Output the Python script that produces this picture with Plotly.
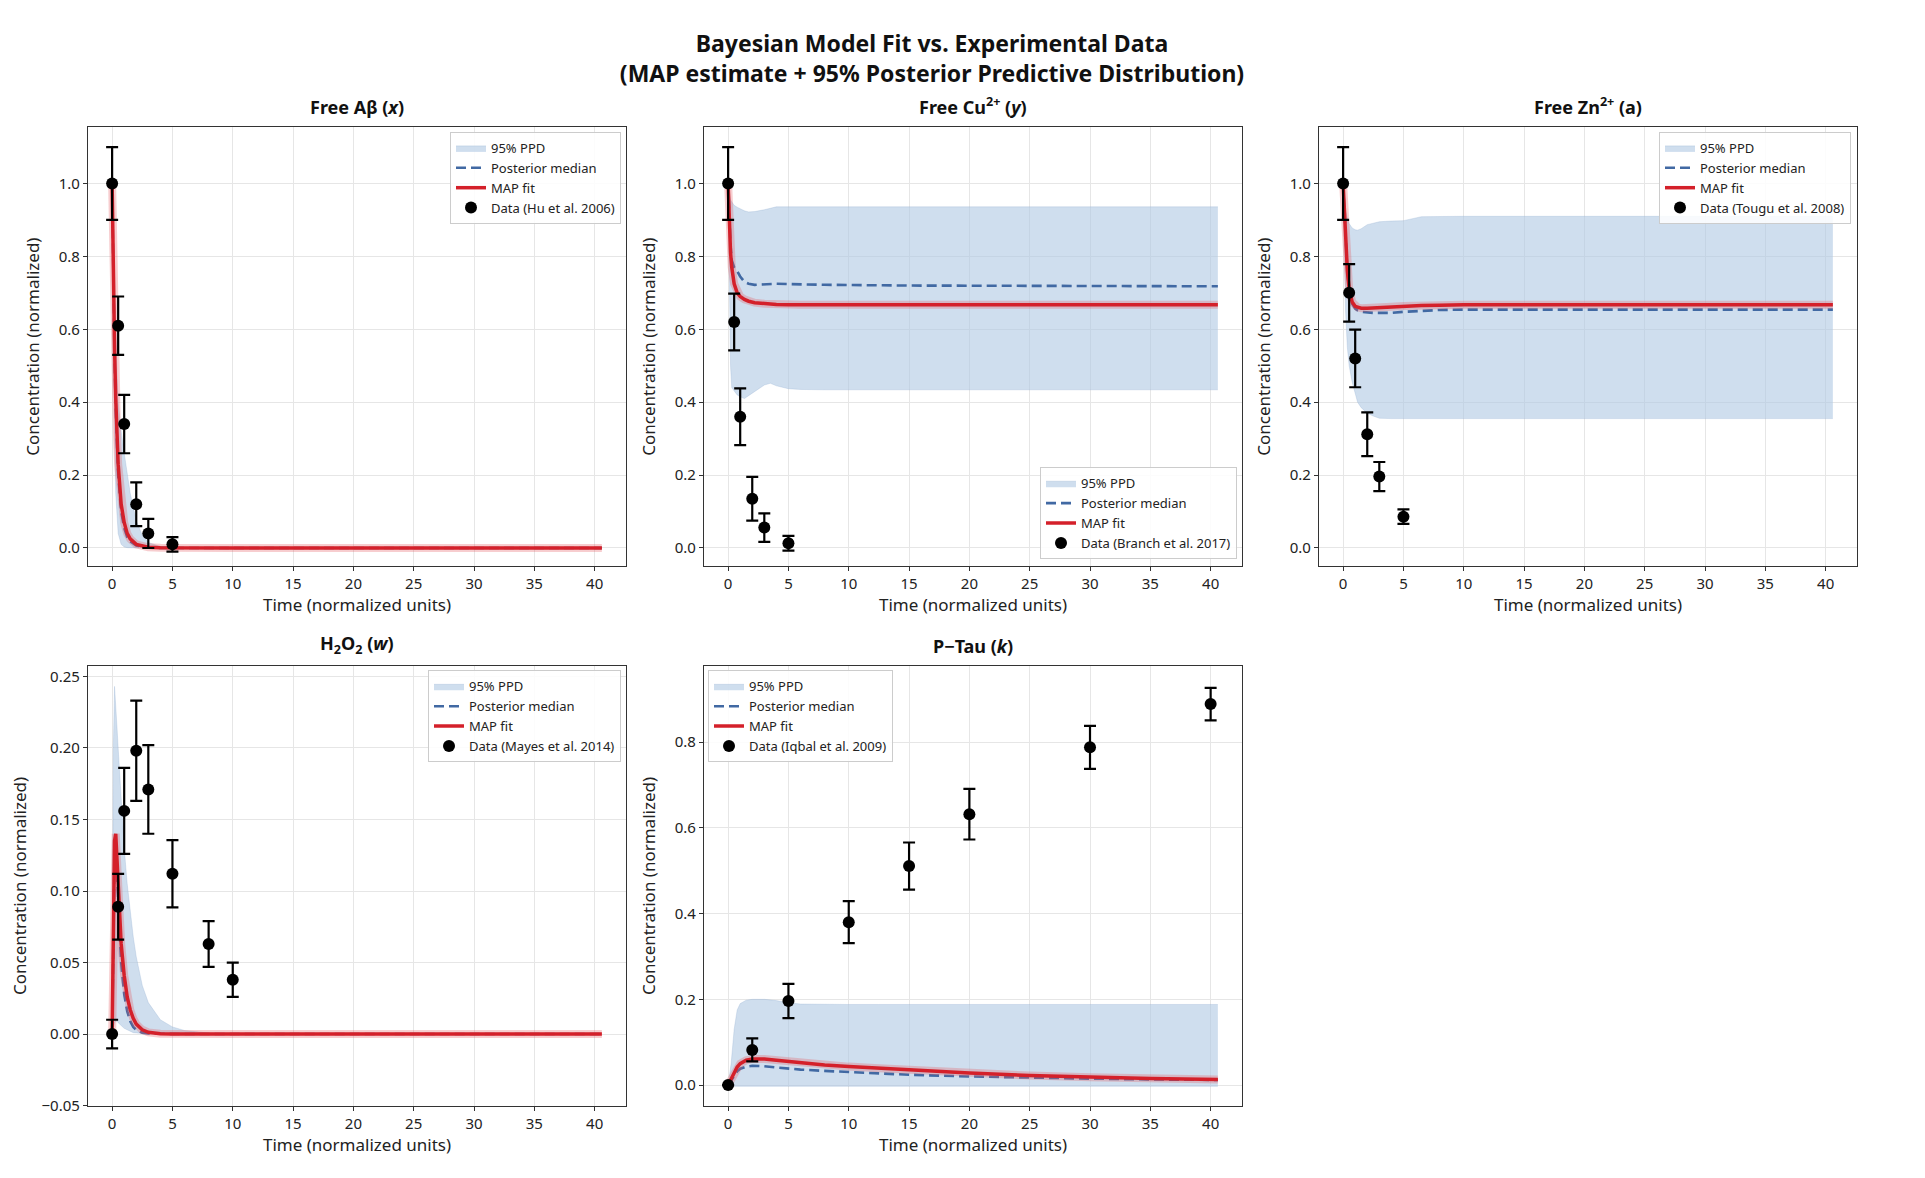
import plotly.graph_objects as go

W, H = 1925, 1178

# ---- Free Abeta (x) ----
t_ab = [0, 0.1, 0.2, 0.3, 0.4, 0.5, 0.75, 1.0, 1.25, 1.5, 2.0, 2.5, 3.0, 4.0, 5.0, 10, 20, 30, 40.6]
map_ab = [1.0, 0.74, 0.55, 0.41, 0.31, 0.23, 0.12, 0.07, 0.04, 0.025, 0.01, 0.005, 0.002, 0.0005, 0.0001, 0, 0, 0, 0]
med_ab = [1.0, 0.72, 0.52, 0.38, 0.28, 0.2, 0.1, 0.055, 0.03, 0.018, 0.007, 0.003, 0.001, 0.0003, 0.0, 0, 0, 0, 0]
up_ab = [1.0, 0.85, 0.7, 0.58, 0.48, 0.4, 0.32, 0.26, 0.2, 0.15, 0.075, 0.035, 0.015, 0.004, 0.001, 0, 0, 0, 0]
lo_ab = [1.0, 0.6, 0.3, 0.15, 0.08, 0.04, 0.01, 0.003, 0.001, 0, 0, 0, 0, 0, 0, 0, 0, 0, 0]
obs_t_ab = [0, 0.5, 1, 2, 3, 5]
obs_ab = [1.0, 0.61, 0.34, 0.12, 0.04, 0.01]
err_ab = [0.1, 0.08, 0.08, 0.06, 0.04, 0.02]

# ---- Free Cu2+ (y) ----
t_cu = [0, 0.1, 0.2, 0.3, 0.5, 0.75, 1.0, 1.35, 1.7, 2.2, 3.0, 3.5, 4.0, 5.0, 6.0, 8.0, 15, 25, 40.6]
map_cu = [1.0, 0.88, 0.81, 0.77, 0.725, 0.70, 0.69, 0.682, 0.677, 0.673, 0.67, 0.669, 0.668, 0.667, 0.667, 0.667, 0.667, 0.667, 0.667]
med_cu = [1.0, 0.9, 0.83, 0.79, 0.77, 0.76, 0.745, 0.73, 0.725, 0.722, 0.724, 0.725, 0.725, 0.724, 0.723, 0.722, 0.72, 0.719, 0.718]
up_cu = [1.0, 0.97, 0.955, 0.95, 0.94, 0.935, 0.93, 0.925, 0.922, 0.923, 0.928, 0.933, 0.936, 0.936, 0.936, 0.936, 0.936, 0.936, 0.936]
lo_cu = [1.0, 0.7, 0.5, 0.44, 0.43, 0.42, 0.415, 0.41, 0.418, 0.43, 0.447, 0.452, 0.445, 0.437, 0.435, 0.434, 0.434, 0.434, 0.434]
obs_t_cu = [0, 0.5, 1, 2, 3, 5]
obs_cu = [1.0, 0.62, 0.36, 0.135, 0.056, 0.013]
err_cu = [0.1, 0.078, 0.078, 0.06, 0.039, 0.02]

# ---- Free Zn2+ (a) ----
t_zn = [0, 0.1, 0.2, 0.35, 0.5, 0.75, 1.0, 1.2, 1.5, 2.0, 2.5, 3.0, 4.0, 5.0, 6.5, 8.0, 10, 20, 40.6]
map_zn = [1.0, 0.92, 0.84, 0.76, 0.71, 0.675, 0.663, 0.66, 0.658, 0.658, 0.659, 0.66, 0.662, 0.664, 0.665, 0.666, 0.667, 0.667, 0.667]
med_zn = [1.0, 0.92, 0.84, 0.76, 0.705, 0.67, 0.657, 0.652, 0.648, 0.646, 0.645, 0.645, 0.645, 0.648, 0.651, 0.653, 0.654, 0.654, 0.654]
up_zn = [1.0, 0.95, 0.925, 0.905, 0.89, 0.878, 0.873, 0.872, 0.876, 0.887, 0.892, 0.895, 0.897, 0.898, 0.909, 0.91, 0.91, 0.91, 0.91]
lo_zn = [1.0, 0.8, 0.65, 0.55, 0.5, 0.455, 0.42, 0.40, 0.385, 0.37, 0.362, 0.356, 0.355, 0.355, 0.355, 0.355, 0.355, 0.355, 0.355]
obs_t_zn = [0, 0.5, 1, 2, 3, 5]
obs_zn = [1.0, 0.70, 0.52, 0.312, 0.196, 0.086]
err_zn = [0.1, 0.079, 0.079, 0.06, 0.04, 0.02]

# ---- H2O2 (w) ----
t_w = [0, 0.1, 0.2, 0.3, 0.4, 0.5, 0.6, 0.75, 1.0, 1.25, 1.5, 1.75, 2.0, 2.5, 3.0, 4.0, 5.0, 6.0, 8.0, 10, 20, 40.6]
map_w = [0.0, 0.1, 0.135, 0.14, 0.122, 0.1, 0.082, 0.063, 0.041, 0.026, 0.017, 0.011, 0.007, 0.003, 0.0012, 0.0003, 0.0001, 0, 0, 0, 0, 0]
med_w = [0.0, 0.09, 0.125, 0.13, 0.11, 0.088, 0.07, 0.05, 0.028, 0.016, 0.009, 0.005, 0.003, 0.001, 0.0004, 0.0001, 0, 0, 0, 0, 0, 0]
up_w = [0.0, 0.2, 0.243, 0.232, 0.215, 0.2, 0.185, 0.165, 0.13, 0.105, 0.085, 0.068, 0.054, 0.034, 0.022, 0.01, 0.005, 0.0025, 0.0007, 0.0002, 0, 0]
lo_w = [0.0, 0.004, 0.008, 0.009, 0.009, 0.008, 0.007, 0.006, 0.004, 0.003, 0.002, 0.001, 0.0008, 0.0003, 0.0001, 0, 0, 0, 0, 0, 0, 0]
obs_t_w = [0, 0.5, 1, 2, 3, 5, 8, 10]
obs_w = [0.0, 0.089, 0.156, 0.198, 0.171, 0.112, 0.063, 0.038]
err_w = [0.01, 0.023, 0.03, 0.035, 0.031, 0.0235, 0.016, 0.012]

# ---- P-Tau (k) ----
t_k = [0, 0.25, 0.5, 0.75, 1.0, 1.5, 2.0, 3.0, 4.0, 5.0, 6.0, 8.0, 10, 12.5, 15, 20, 25, 30, 35, 40.6]
map_k = [0.0, 0.015, 0.03, 0.042, 0.05, 0.058, 0.061, 0.061, 0.058, 0.055, 0.052, 0.047, 0.043, 0.039, 0.035, 0.028, 0.022, 0.018, 0.015, 0.013]
med_k = [0.0, 0.01, 0.022, 0.032, 0.038, 0.043, 0.045, 0.044, 0.041, 0.038, 0.036, 0.033, 0.03, 0.027, 0.024, 0.02, 0.017, 0.015, 0.013, 0.012]
up_k = [0.0, 0.05, 0.13, 0.175, 0.19, 0.198, 0.2, 0.2, 0.197, 0.192, 0.189, 0.188, 0.188, 0.188, 0.188, 0.188, 0.188, 0.188, 0.188, 0.188]
lo_k = [0.0, -0.002, -0.003, -0.003, -0.003, -0.003, -0.003, -0.003, -0.003, -0.003, -0.003, -0.003, -0.003, -0.003, -0.003, -0.003, -0.003, -0.003, -0.003, -0.003]
obs_t_k = [0, 2, 5, 10, 15, 20, 30, 40]
obs_k = [0.0, 0.082, 0.196, 0.38, 0.511, 0.632, 0.788, 0.889]
err_k = [0.0, 0.027, 0.04, 0.049, 0.055, 0.059, 0.05, 0.038]

x_ticks = [0, 5, 10, 15, 20, 25, 30, 35, 40]
y_ticks_conc = [0.0, 0.2, 0.4, 0.6, 0.8, 1.0]
y_ticks_w = [-0.05, 0.0, 0.05, 0.10, 0.15, 0.20, 0.25]
y_ticks_k = [0.0, 0.2, 0.4, 0.6, 0.8]

FONT = "Noto Sans"
BAND = "rgba(172,198,226,0.58)"
BAND_EDGE = "rgba(140,170,205,0.45)"
MED = "#4169a3"
RED = "#d4202a"

panels = [
    dict(title="Free Aβ (<i>x</i>)", t=t_ab, fit=map_ab, med=med_ab, up=up_ab, lo=lo_ab,
         ot=obs_t_ab, ov=obs_ab, oe=err_ab, src="Data (Hu et al. 2006)",
         yr=[-0.05, 1.155], yt=y_ticks_conc, fmt=".1f", box=(80, 119), leg=("right", "top", 613, 124)),
    dict(title="Free Cu<sup>2+</sup> (<i>y</i>)", t=t_cu, fit=map_cu, med=med_cu, up=up_cu, lo=lo_cu,
         ot=obs_t_cu, ov=obs_cu, oe=err_cu, src="Data (Branch et al. 2017)",
         yr=[-0.05, 1.155], yt=y_ticks_conc, fmt=".1f", box=(696, 119), leg=("right", "bottom", 1229, 555)),
    dict(title="Free Zn<sup>2+</sup> (a)", t=t_zn, fit=map_zn, med=med_zn, up=up_zn, lo=lo_zn,
         ot=obs_t_zn, ov=obs_zn, oe=err_zn, src="Data (Tougu et al. 2008)",
         yr=[-0.05, 1.155], yt=y_ticks_conc, fmt=".1f", box=(1311, 119), leg=("right", "top", 1843, 124)),
    dict(title="H<sub>2</sub>O<sub>2</sub> (<i>w</i>)", t=t_w, fit=map_w, med=med_w, up=up_w, lo=lo_w,
         ot=obs_t_w, ov=obs_w, oe=err_w, src="Data (Mayes et al. 2014)",
         yr=[-0.05, 0.257], yt=y_ticks_w, fmt=".2f", box=(80, 663), leg=("right", "top", 613, 667)),
    dict(title="P−Tau (<i>k</i>)", t=t_k, fit=map_k, med=med_k, up=up_k, lo=lo_k,
         ot=obs_t_k, ov=obs_k, oe=err_k, src="Data (Iqbal et al. 2009)",
         yr=[-0.048, 0.977], yt=y_ticks_k, fmt=".1f", box=(696, 663), leg=("left", "top", 700, 667)),
]

PW, PH = 538, 443

fig = go.Figure()
layout = {}
annotations = []

for i, p in enumerate(panels):
    n = i + 1
    xa = "x" if n == 1 else f"x{n}"
    ya = "y" if n == 1 else f"y{n}"
    lg = "legend" if n == 1 else f"legend{n}"
    left, top = p["box"]
    xd = [left / W, (left + PW) / W]
    yd = [1 - (top + PH) / H, 1 - top / H]

    # 95% posterior predictive band
    fig.add_trace(go.Scatter(x=p["t"], y=p["lo"], mode="lines", line=dict(color=BAND_EDGE, width=0.6),
                             showlegend=False, hoverinfo="skip", xaxis=xa, yaxis=ya, legend=lg))
    fig.add_trace(go.Scatter(x=p["t"], y=p["up"], mode="lines", fill="tonexty", fillcolor=BAND,
                             line=dict(color=BAND_EDGE, width=0.6),
                             name="95% PPD", xaxis=xa, yaxis=ya, legend=lg))
    fig.add_trace(go.Scatter(x=p["t"], y=p["med"], mode="lines", line=dict(color=MED, width=2.6, dash="10px,5px"),
                             name="Posterior median", xaxis=xa, yaxis=ya, legend=lg))
    # soft halo under the MAP line
    fig.add_trace(go.Scatter(x=p["t"], y=p["fit"], mode="lines", line=dict(color="rgba(230,90,95,0.3)", width=8),
                             showlegend=False, hoverinfo="skip", xaxis=xa, yaxis=ya, legend=lg))
    fig.add_trace(go.Scatter(x=p["t"], y=p["fit"], mode="lines", line=dict(color=RED, width=3.5),
                             name="MAP fit", xaxis=xa, yaxis=ya, legend=lg))
    fig.add_trace(go.Scatter(x=p["ot"], y=p["ov"], mode="markers",
                             marker=dict(color="black", size=12),
                             error_y=dict(type="data", array=p["oe"], color="black", thickness=2.2, width=6),
                             name=p["src"], xaxis=xa, yaxis=ya, legend=lg))

    axis_common = dict(showline=True, mirror=True, linecolor="#333333", linewidth=1.3,
                       showgrid=True, gridcolor="#e6e6e6", gridwidth=1, zeroline=False,
                       ticks="outside", ticklen=4, tickcolor="#333333",
                       tickfont=dict(family=FONT, size=15, color="#222222"))
    layout["xaxis" if n == 1 else f"xaxis{n}"] = dict(
        domain=xd, anchor=ya, range=[-2.0, 42.6], tickvals=x_ticks,
        title=dict(text="Time (normalized units)", font=dict(family=FONT, size=17, color="#222222"), standoff=6),
        **axis_common)
    layout["yaxis" if n == 1 else f"yaxis{n}"] = dict(
        domain=yd, anchor=xa, range=p["yr"], tickvals=p["yt"], tickformat=p["fmt"],
        title=dict(text="Concentration (normalized)", font=dict(family=FONT, size=17, color="#222222"), standoff=14),
        **axis_common)

    layout[lg] = dict(x=p["leg"][2] / W, y=1 - p["leg"][3] / H, xanchor=p["leg"][0], yanchor=p["leg"][1],
                      bgcolor="rgba(255,255,255,0.85)", bordercolor="#cccccc", borderwidth=1,
                      font=dict(family=FONT, size=13, color="#222222"), tracegroupgap=0,
                      traceorder="normal")

    annotations.append(dict(text=f"<b>{p['title']}</b>", x=(xd[0] + xd[1]) / 2, y=yd[1],
                            xref="paper", yref="paper", xanchor="center", yanchor="bottom", yshift=6,
                            showarrow=False, font=dict(family=FONT, size=18, color="#111111")))

fig.update_layout(
    width=W, height=H,
    margin=dict(l=0, r=0, t=0, b=0),
    paper_bgcolor="white", plot_bgcolor="white",
    title=dict(text="<b>Bayesian Model Fit vs. Experimental Data<br>(MAP estimate + 95% Posterior Predictive Distribution)</b>",
               x=924 / W, xanchor="center", y=1 - 44 / H, yanchor="middle",
               font=dict(family=FONT, size=23, color="#111111")),
    annotations=annotations,
    showlegend=True,
    **layout,
)

fig.write_html("out.html")
